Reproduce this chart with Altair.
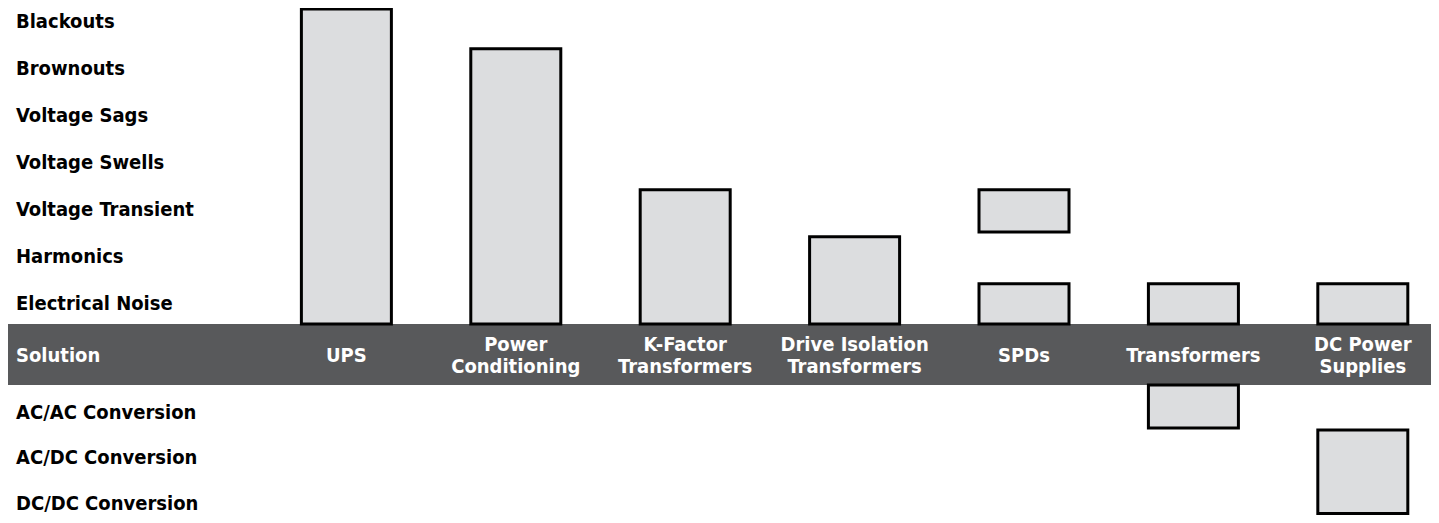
import altair as alt
import pandas as pd

# ---- data ----
upper_rows = ["Blackouts", "Brownouts", "Voltage Sags", "Voltage Swells",
              "Voltage Transient", "Harmonics", "Electrical Noise"]
lower_rows = ["AC/AC Conversion", "AC/DC Conversion", "DC/DC Conversion"]
solutions = ["UPS", "Power\nConditioning", "K-Factor\nTransformers",
             "Drive Isolation\nTransformers", "SPDs", "Transformers",
             "DC Power\nSupplies"]
band_title = "Solution"

# which rows each solution covers (solution index, first row, last row)
bar_solution = [0, 1, 2, 3, 4, 4, 5, 5, 6, 6]
bar_first = ["Blackouts", "Brownouts", "Voltage Transient", "Harmonics",
             "Voltage Transient", "Electrical Noise", "Electrical Noise",
             "AC/AC Conversion", "Electrical Noise", "AC/DC Conversion"]
bar_last = ["Electrical Noise", "Electrical Noise", "Electrical Noise",
            "Electrical Noise", "Voltage Transient", "Electrical Noise",
            "Electrical Noise", "AC/AC Conversion", "Electrical Noise",
            "DC/DC Conversion"]

# ---- layout grid (row units) ----
pos = {r: i for i, r in enumerate(upper_rows)}
pos.update(dict(zip(lower_rows, [8.31, 9.27, 10.25])))
band_top, band_bot, band_mid = 6.415, 7.713, 7.10
Y_MIN, Y_MAX = -0.3085, 10.479
X_MIN, X_MAX = -1.968, 6.373
W, H = 1423, 507
LH = 22

def top_edge(r):
    if r in lower_rows:
        return max(pos[r] - 0.6, band_bot)
    return max(pos[r] - 0.44, Y_MIN + 0.02)

def bot_edge(r):
    if r in lower_rows:
        return min(pos[r] + 0.32, Y_MAX - 0.03)
    return min(pos[r] + 0.46, band_top)

bars = pd.DataFrame({
    "x": bar_solution,
    "top": [top_edge(r) for r in bar_first],
    "bot": [bot_edge(r) for r in bar_last],
})
row_labels = pd.DataFrame({"label": upper_rows + lower_rows,
                           "y": [pos[r] for r in upper_rows + lower_rows]})
col_labels = pd.DataFrame({"label": solutions, "x": list(range(len(solutions))),
                           "y": [band_mid] * len(solutions)})
col_labels["two"] = col_labels["label"].str.contains("\n")
band_df = pd.DataFrame({"top": [band_top], "bot": [band_bot],
                        "label": [band_title], "mid": [band_mid]})

FONT = "DejaVu Sans Condensed, DejaVu Sans, sans-serif"
FS = 20
xs = alt.Scale(domain=[X_MIN, X_MAX], nice=False, zero=False)
ys = alt.Scale(domain=[Y_MIN, Y_MAX], nice=False, zero=False, reverse=True)

band = alt.Chart(band_df).mark_rect(color="#58595b").encode(
    x=alt.value(0), x2=alt.value(W),
    y=alt.Y("top:Q", scale=ys, axis=None), y2="bot:Q")

band_text = alt.Chart(band_df).mark_text(
    align="left", baseline="middle", font=FONT, fontWeight="bold",
    fontSize=FS, color="white").encode(
    x=alt.value(8), y=alt.Y("mid:Q", scale=ys, axis=None), text="label:N")

bar_layer = alt.Chart(bars).mark_bar(
    size=90, fill="#dcdddf", stroke="#000000", strokeWidth=3).encode(
    x=alt.X("x:Q", scale=xs, axis=None),
    y=alt.Y("top:Q", scale=ys, axis=None), y2="bot:Q")

rows_text = alt.Chart(row_labels).mark_text(
    align="left", baseline="middle", font=FONT, fontWeight="bold",
    fontSize=FS, color="#000000").encode(
    x=alt.value(8), y=alt.Y("y:Q", scale=ys, axis=None), text="label:N")

def col_text(two, dy):
    return alt.Chart(col_labels[col_labels["two"] == two]).mark_text(
        align="center", baseline="middle", font=FONT, fontWeight="bold",
        fontSize=FS, color="white", lineBreak="\n", lineHeight=LH, dy=dy
    ).encode(
        x=alt.X("x:Q", scale=xs, axis=None),
        y=alt.Y("y:Q", scale=ys, axis=None), text="label:N")

cols_one = col_text(False, 0)
cols_two = col_text(True, -LH / 2)

chart = alt.layer(band, band_text, bar_layer, rows_text, cols_one, cols_two).properties(
    width=W, height=H, padding=0,
    autosize=alt.AutoSizeParams(type="none"),
).configure_view(stroke=None)

chart.save("out.html", embed_options={"renderer": "svg", "actions": False})
